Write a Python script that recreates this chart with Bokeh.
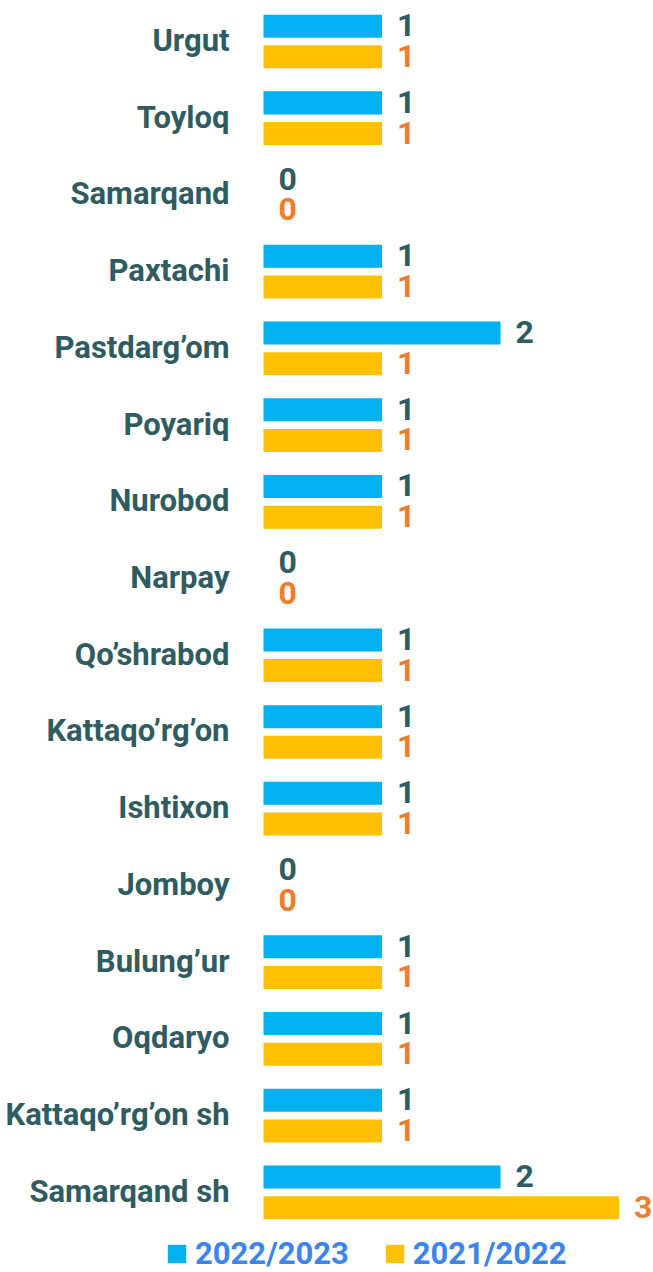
from bokeh.plotting import figure
from bokeh.models import ColumnDataSource, Range1d, Legend, LegendItem
from bokeh.transform import dodge
from bokeh.core.properties import value
from bokeh.embed import file_html
from bokeh.resources import INLINE

categories = ["Urgut", "Toyloq", "Samarqand", "Paxtachi", "Pastdarg’om", "Poyariq",
              "Nurobod", "Narpay", "Qo’shrabod", "Kattaqo’rg’on", "Ishtixon", "Jomboy",
              "Bulung’ur", "Oqdaryo", "Kattaqo’rg’on sh", "Samarqand sh"]
v2022_2023 = [1, 1, 0, 1, 2, 1, 1, 0, 1, 1, 1, 0, 1, 1, 1, 2]
v2021_2022 = [1, 1, 0, 1, 1, 1, 1, 0, 1, 1, 1, 0, 1, 1, 1, 3]
series_names = ["2022/2023", "2021/2022"]

W, H = 653, 1272
zero_px, unit_x = 263, 118.5
row0_px, unit_y = 41, 76.72

src = ColumnDataSource(dict(
    idx=list(range(len(categories))),
    cat=categories,
    a=v2022_2023, b=v2021_2022,
    a_lab=[str(v) for v in v2022_2023],
    b_lab=[str(v) for v in v2021_2022],
))

n = len(categories)
p = figure(width=W, height=H, output_backend="svg", toolbar_location=None,
           x_range=Range1d(-zero_px / unit_x, (W - zero_px) / unit_x),
           y_range=Range1d(n - 1 + (H - row0_px - (n - 1) * unit_y) / unit_y, -row0_px / unit_y),
           min_border=0, x_axis_type=None, y_axis_type=None)
p.outline_line_color = None
p.grid.visible = False
p.background_fill_color = "white"
p.border_fill_color = "white"

FONT_S = "Roboto"
FONT = value(FONT_S)

blue = "#00B0F0"
gold = "#FFC000"
r1 = p.hbar(y=dodge("idx", -0.2, range=p.y_range), right="a", left=0, height=0.3,
            fill_color=blue, line_color=None, source=src)
r2 = p.hbar(y=dodge("idx", 0.2, range=p.y_range), right="b", left=0, height=0.3,
            fill_color=gold, line_color=None, source=src)

p.text(x=0, y="idx", text="cat", source=src, x_offset=-34, text_align="right",
       text_baseline="middle", text_font=FONT, text_font_style="bold",
       text_font_size="31px", text_color="#2F5C60", y_offset=-1)
p.text(x="a", y=dodge("idx", -0.2, range=p.y_range), text="a_lab", source=src, x_offset=15,
       text_align="left", text_baseline="middle", text_font=FONT, text_font_style="bold",
       text_font_size="32px", text_color="#2F5C60", y_offset=-1)
p.text(x="b", y=dodge("idx", 0.2, range=p.y_range), text="b_lab", source=src, x_offset=15,
       text_align="left", text_baseline="middle", text_font=FONT, text_font_style="bold",
       text_font_size="32px", text_color="#ED7D31", y_offset=-1)

legend = Legend(items=[LegendItem(label=series_names[0], renderers=[r1]),
                       LegendItem(label=series_names[1], renderers=[r2])],
                orientation="horizontal", location=(165, 0),
                glyph_width=23, glyph_height=23, label_text_font=FONT_S,
                label_text_font_style="bold", label_text_font_size="31px",
                label_text_color="#3A86EE", spacing=34, padding=0, margin=0,
                label_standoff=7, border_line_color=None, background_fill_alpha=0)
p.add_layout(legend)

open("out.html", "w").write(file_html(p, INLINE))
